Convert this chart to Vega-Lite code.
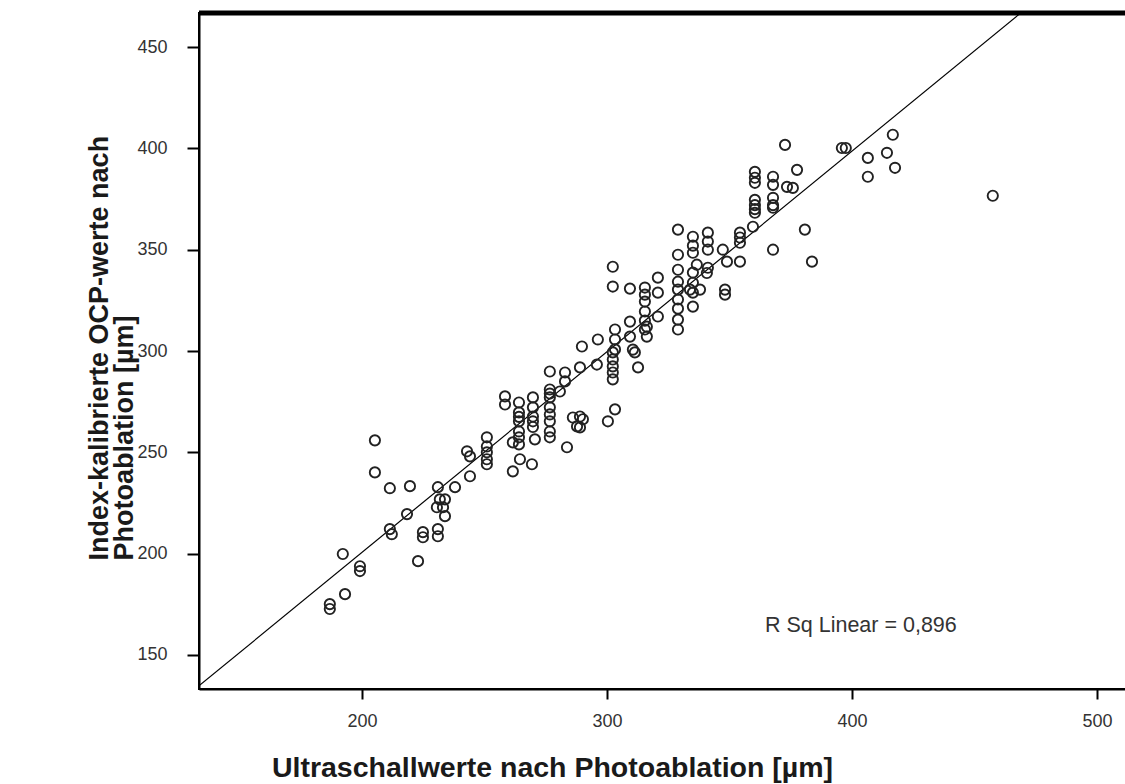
{
  "$schema": "https://vega.github.io/schema/vega-lite/v6.json",
  "width": 930,
  "height": 676,
  "autosize": {"type": "none"},
  "padding": {"left": 199, "top": 13, "right": 0, "bottom": 95},
  "background": "white",
  "config": {
    "view": {"stroke": "black", "strokeWidth": 2},
    "font": "Liberation Sans"
  },
  "datasets": {
    "pts": [
      {"us":205.3,"ocp":255.9},{"us":205.3,"ocp":240.1},{"us":211.4,"ocp":232.3},{"us":219.6,"ocp":233.3},{"us":242.9,"ocp":250.5},{"us":244.1,"ocp":248},{"us":244.1,"ocp":238.2},{"us":238,"ocp":232.8},{"us":231,"ocp":232.8},{"us":231.8,"ocp":226.8},{"us":233.9,"ocp":226.8},{"us":230.6,"ocp":222.9},{"us":233.1,"ocp":222.9},{"us":233.9,"ocp":218.5},{"us":218.4,"ocp":219.5},{"us":211.4,"ocp":212.1},{"us":212.2,"ocp":209.6},{"us":224.9,"ocp":210.6},{"us":224.9,"ocp":208.1},{"us":231,"ocp":212.1},{"us":231,"ocp":208.6},{"us":222.9,"ocp":196.3},{"us":192.2,"ocp":199.8},{"us":199.2,"ocp":193.8},{"us":199.2,"ocp":191.4},{"us":193.1,"ocp":180},{"us":186.9,"ocp":175.1},{"us":186.9,"ocp":172.7},
      {"us":251,"ocp":257.4},{"us":251,"ocp":252.9},{"us":251,"ocp":250},{"us":251,"ocp":246.6},{"us":251,"ocp":244.1},
      {"us":258.4,"ocp":277.6},{"us":258.4,"ocp":273.6},{"us":261.6,"ocp":254.9},
      {"us":264.1,"ocp":274.6},{"us":264.1,"ocp":269.7},{"us":264.1,"ocp":265.3},{"us":264.1,"ocp":260.3},{"us":264.1,"ocp":257.4},{"us":264.1,"ocp":253.9},{"us":264.5,"ocp":246.6},{"us":261.6,"ocp":240.6},{"us":264.1,"ocp":267.5},
      {"us":269.8,"ocp":277.1},{"us":269.8,"ocp":272.2},{"us":269.8,"ocp":267.7},{"us":269.8,"ocp":265.3},{"us":270.6,"ocp":256.4},{"us":269.4,"ocp":244.1},{"us":269.8,"ocp":262.5},
      {"us":276.7,"ocp":289.9},{"us":276.7,"ocp":281},{"us":276.7,"ocp":277.1},{"us":276.7,"ocp":272.2},{"us":276.7,"ocp":268.7},{"us":276.7,"ocp":265.3},{"us":276.7,"ocp":260.3},{"us":276.7,"ocp":257.4},{"us":276.7,"ocp":279},
      {"us":280.8,"ocp":280},{"us":282.9,"ocp":289.4},{"us":282.9,"ocp":285},{"us":283.7,"ocp":252.5},
      {"us":289,"ocp":291.9},{"us":286.1,"ocp":267.2},{"us":289,"ocp":267.7},{"us":290.2,"ocp":266.3},{"us":287.8,"ocp":262.8},{"us":289,"ocp":262.3},
      {"us":295.9,"ocp":293.3},{"us":296.3,"ocp":305.7},{"us":289.8,"ocp":302.2},
      {"us":302.4,"ocp":299.3},{"us":302.4,"ocp":295.8},{"us":302.4,"ocp":292.4},{"us":302.4,"ocp":289.4},{"us":302.4,"ocp":286},
      {"us":303.3,"ocp":271.2},{"us":300.4,"ocp":265.3},
      {"us":311.4,"ocp":299.3},{"us":312.7,"ocp":291.9},{"us":310.6,"ocp":300.7},
      {"us":302.4,"ocp":341.6},{"us":302.4,"ocp":331.8},{"us":309.4,"ocp":330.8},
      {"us":303.3,"ocp":310.6},{"us":303.3,"ocp":305.7},{"us":303.3,"ocp":300.8},
      {"us":315.5,"ocp":331.3},{"us":315.5,"ocp":327.8},{"us":315.5,"ocp":324.4},{"us":315.5,"ocp":319.5},{"us":315.5,"ocp":315},{"us":315.5,"ocp":310.6},
      {"us":320.8,"ocp":336.2},{"us":320.8,"ocp":328.8},{"us":320.8,"ocp":317},
      {"us":309.4,"ocp":314.5},{"us":309.4,"ocp":307.1},{"us":316.3,"ocp":312},{"us":316.3,"ocp":307.1},
      {"us":329,"ocp":359.9},{"us":329,"ocp":347.5},{"us":329,"ocp":340.1},{"us":329,"ocp":334.2},{"us":329,"ocp":330.3},{"us":329,"ocp":325.4},{"us":329,"ocp":320.9},{"us":329,"ocp":315.5},{"us":329,"ocp":310.6},
      {"us":335.1,"ocp":356.4},{"us":335.1,"ocp":352},{"us":335.1,"ocp":348.5},{"us":335.1,"ocp":338.7},{"us":335.1,"ocp":333.7},{"us":335.1,"ocp":328.8},{"us":335.1,"ocp":321.9},
      {"us":336.7,"ocp":342.6},{"us":341.2,"ocp":341.1},{"us":340.8,"ocp":338.5},
      {"us":333.9,"ocp":330.3},{"us":338,"ocp":330.3},
      {"us":348.2,"ocp":330.3},{"us":348.2,"ocp":327.8},
      {"us":341.2,"ocp":358.4},{"us":341.2,"ocp":354},{"us":341.2,"ocp":350},
      {"us":347.3,"ocp":350},{"us":349,"ocp":344.1},{"us":354.3,"ocp":344.1},
      {"us":354.3,"ocp":358.4},{"us":354.3,"ocp":356},{"us":354.3,"ocp":353.4},
      {"us":359.6,"ocp":361.3},{"us":380.8,"ocp":359.9},{"us":367.8,"ocp":350},{"us":383.7,"ocp":344.1},
      {"us":372.7,"ocp":401.7},{"us":395.9,"ocp":400.2},{"us":397.5,"ocp":400.2},
      {"us":360.4,"ocp":388.4},{"us":360.4,"ocp":385.5},{"us":360.4,"ocp":383},{"us":360.4,"ocp":374.6},{"us":360.4,"ocp":372},{"us":360.4,"ocp":370},{"us":360.4,"ocp":368.2},
      {"us":367.8,"ocp":386},{"us":367.8,"ocp":382},{"us":367.8,"ocp":375.6},{"us":367.8,"ocp":372},{"us":367.8,"ocp":370.7},
      {"us":377.6,"ocp":389.4},{"us":373.5,"ocp":381},{"us":375.9,"ocp":380.5},
      {"us":416.7,"ocp":406.7},{"us":406.5,"ocp":395.3},{"us":414.3,"ocp":397.8},{"us":417.6,"ocp":390.4},{"us":406.5,"ocp":386},
      {"us":457.5,"ocp":376.6}
    ],
    "fit": [{"us":130,"ocp":131.3},{"us":480,"ocp":477.8}],
    "note": [{"label":"R Sq Linear = 0,896","us":364.5,"ocp":164.3}],
    "frame": [{"ocp":466.8}]
  },
  "layer": [
    {
      "data": {"name": "fit"},
      "mark": {"type": "line", "color": "black", "strokeWidth": 1.2, "clip": true},
      "encoding": {
        "x": {"field": "us", "type": "quantitative"},
        "y": {"field": "ocp", "type": "quantitative"}
      }
    },
    {
      "data": {"name": "pts"},
      "mark": {"type": "point", "shape": "circle", "filled": false, "stroke": "#222222", "strokeWidth": 1.9, "size": 105, "opacity": 1},
      "encoding": {
        "x": {
          "field": "us", "type": "quantitative",
          "scale": {"domain": [133.5, 513.1], "nice": false, "zero": false},
          "axis": {
            "values": [200, 300, 400, 500],
            "grid": false,
            "domainColor": "black", "domainWidth": 2,
            "tickColor": "black", "tickWidth": 2, "tickSize": 10,
            "labelFontSize": 18, "labelColor": "#333333", "labelPadding": 13,
            "labelFont": "Liberation Sans",
            "title": "Ultraschallwerte nach Photoablation [µm]",
            "titleFont": "Liberation Sans", "titleFontSize": 28.5, "titleFontWeight": "bold", "titleColor": "#1a1a1a",
            "titleX": 353, "titleY": 78, "titleBaseline": "middle", "titleAlign": "center"
          }
        },
        "y": {
          "field": "ocp", "type": "quantitative",
          "scale": {"domain": [133.2, 466.8], "nice": false, "zero": false},
          "axis": {
            "values": [150, 200, 250, 300, 350, 400, 450],
            "grid": false,
            "domainColor": "black", "domainWidth": 2,
            "tickColor": "black", "tickWidth": 2, "tickSize": 12,
            "labelFontSize": 18, "labelColor": "#333333", "labelPadding": 20,
            "labelFont": "Liberation Sans",
            "title": ["Index-kalibrierte OCP-werte nach", "Photoablation [µm]"],
            "titleFont": "Liberation Sans", "titleFontSize": 27, "titleFontWeight": "bold", "titleColor": "#1a1a1a",
            "titleLineHeight": 25,
            "titleAngle": 270,
            "titleX": -100, "titleY": 547, "titleAlign": "left", "titleBaseline": "middle"
          }
        }
      }
    },
    {
      "data": {"name": "frame"},
      "mark": {"type": "rule", "color": "black", "strokeWidth": 5},
      "encoding": {"y": {"field": "ocp", "type": "quantitative"}}
    },
    {
      "data": {"name": "note"},
      "mark": {"type": "text", "align": "left", "baseline": "middle", "fontSize": 21.5, "font": "Liberation Sans", "color": "#333333"},
      "encoding": {
        "x": {"field": "us", "type": "quantitative"},
        "y": {"field": "ocp", "type": "quantitative"},
        "text": {"field": "label"}
      }
    }
  ]
}
